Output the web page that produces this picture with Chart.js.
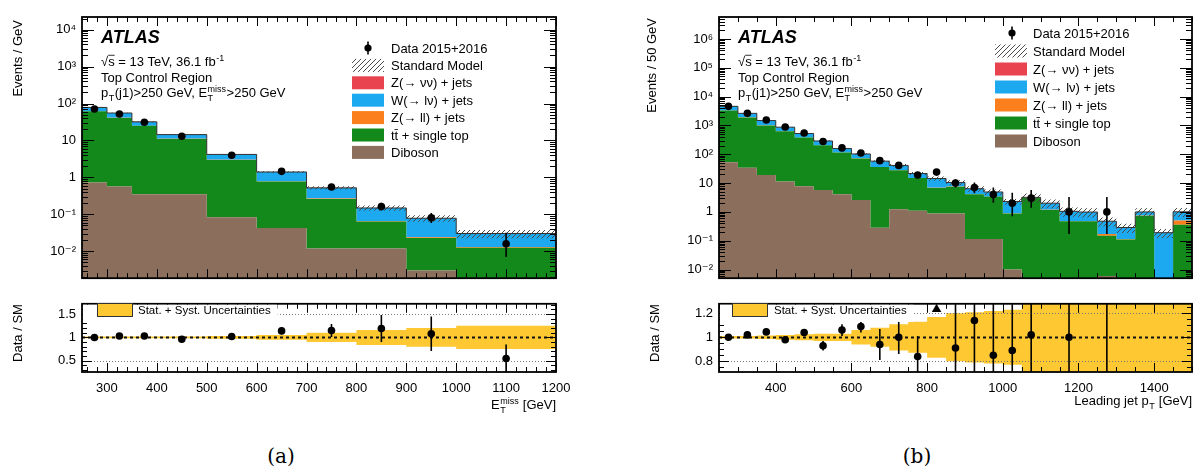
<!DOCTYPE html>
<html>
<head>
<meta charset="utf-8">
<title>ATLAS top control region</title>
<script src="https://cdn.jsdelivr.net/npm/chart.js@4.4.1/dist/chart.umd.min.js"></script>
<style>
  body { margin: 0; background: #fff; }
  #wrap { position: relative; width: 1203px; height: 475px; overflow: hidden; background: #fff; }
  canvas { position: absolute; }
  .cap { position: absolute; top: 444px; width: 60px; margin-left: -30px; text-align: center;
         font: 20px 'DejaVu Serif', 'Liberation Serif', serif; color: #000; }
</style>
</head>
<body>
<div id="wrap">
  <canvas id="mainA" width="600" height="292" style="left:0;top:0"></canvas>
  <canvas id="ratioA" width="600" height="140" style="left:0;top:290px"></canvas>
  <canvas id="mainB" width="603" height="292" style="left:600px;top:0"></canvas>
  <canvas id="ratioB" width="603" height="140" style="left:600px;top:290px"></canvas>
  <div class="cap" style="left:281px">(a)</div>
  <div class="cap" style="left:917px">(b)</div>
</div>
<script>
// ---------- (a) E_T^miss, events / GeV ----------
const edgesA = [250, 300, 350, 400, 500, 600, 700, 800, 900, 1000, 1200];
const dataA = [71, 52, 31, 13, 4.0, 1.46, 0.55, 0.163, 0.081, 0.016];
const dataErrUpA = [0.015, 0.02, 0.025, 0.03, 0.04, 0.07, 0.13, 0.26, 0.34, 1.0];
const dataErrDnA = [0.015, 0.02, 0.025, 0.03, 0.04, 0.07, 0.12, 0.22, 0.28, 0.56];
const dibosonA = [0.73, 0.57, 0.35, 0.35, 0.083, 0.043, 0.012, 0.012, 0.003, 0.001];
const ttbarA = [61, 40, 24.6, 10.6, 2.9, 0.73, 0.25, 0.052, 0.020, 0.0115];
const zllA = [0.5, 0.4, 0.2, 0.12, 0.04, 0.02, 0.007, 0.002, 0.001, 0.0005];
const wlnA = [16, 14.3, 6.7, 3.3, 1.15, 0.6, 0.25, 0.082, 0.054, 0.017];
const znnA = [0.2, 0.1, 0.1, 0.05, 0.02, 0.01, 0.003, 0.001, 0.0005, 0.0003];
const smUncA = [0.02, 0.02, 0.02, 0.02, 0.03, 0.05, 0.1, 0.16, 0.2, 0.25];
const ratioA = [1.0, 1.03, 1.03, 0.96, 1.02, 1.14, 1.15, 1.19, 1.08, 0.55];
const ratioErrA = [0.02, 0.02, 0.03, 0.03, 0.03, 0.07, 0.14, 0.29, 0.37, 0.3];

// ---------- (b) leading jet pT, events / 50 GeV ----------
const edgesB = [250, 300, 350, 400, 450, 500, 550, 600, 650, 700, 750, 800, 850, 900, 950,
                1000, 1050, 1100, 1150, 1200, 1250, 1300, 1350, 1400, 1450, 1500];
const dataB = [4600, 2650, 1550, 880, 550, 277, 166, 110, 60, 41, 19, 24, 10, 7, 4, 2, 3,
               null, 1, null, 1, null, null, null, null];
const dataErrUpB = [0.015, 0.02, 0.025, 0.034, 0.043, 0.06, 0.078, 0.1, 0.13, 0.16, 0.26, 0.23,
                    0.36, 0.5, 0.74, 1.3, 0.92, null, 2.3, null, 2.3, null, null, null, null];
const dataErrDnB = [0.015, 0.02, 0.025, 0.034, 0.043, 0.06, 0.078, 0.095, 0.13, 0.155, 0.22, 0.2,
                    0.3, 0.37, 0.48, 0.65, 0.54, null, 0.83, null, 0.83, null, null, null, null];
const dibosonB = [53, 34, 19, 11.4, 7.8, 5.7, 4.1, 2.6, 0.28, 1.23, 1.1, 0.88, 0.88, 0.115, 0.115,
                  0.01, 0.003, 0.003, 0.003, 0.003, 0.006, 0.002, 0.002, 0.001, 0.001];
const ttbarB = [3250, 1870, 980, 620, 372, 198, 110, 69, 35.7, 26.8, 13.9, 5.9, 6.6, 4.0, 3.3,
                0.87, 3.1, 1.17, 0.47, 0.47, 0.144, 0.108, 0.74, 0.001, 0.36];
const zllB = [30, 18, 10, 6, 3.5, 2, 1.1, 0.7, 0.4, 0.3, 0.15, 0.1, 0.08, 0.05, 0.04,
              0.02, 0.03, 0.02, 0.01, 0.01, 0.02, 0.005, 0.005, 0.002, 0.14];
const wlnB = [1260, 700, 466, 232, 140, 83, 42, 30, 21, 12.6, 6.3, 7.5, 2.9, 2.2, 1.44,
              1.39, 0.06, 0.8, 0.56, 0.5, 0.3, 0.17, 0.25, 0.185, 0.5];
const znnB = [10, 6, 4, 2, 1.2, 0.7, 0.4, 0.3, 0.2, 0.1, 0.05, 0.05, 0.03, 0.02, 0.02,
              0.01, 0.01, 0.01, 0.005, 0.005, 0.005, 0.002, 0.002, 0.001, 0.005];
const smUncB = [0.01, 0.01, 0.015, 0.02, 0.025, 0.03, 0.03, 0.06, 0.08, 0.11, 0.13, 0.17, 0.2,
                0.21, 0.22, 0.23, 0.35, 0.35, 0.35, 0.35, 0.35, 0.35, 0.35, 0.35, 0.35];
const ratioB = [1.0, 1.02, 1.045, 0.98, 1.04, 0.93, 1.06, 1.09, 0.94, 1.0, 0.84, 1.66, 0.91,
                1.14, 0.85, 0.89, 1.02, null, 1.0, null, 2.1, null, null, null, null];
const ratioErrB = [0.01, 0.015, 0.02, 0.025, 0.03, 0.04, 0.05, 0.05, 0.13, 0.14, 0.17, 0.3, 0.4,
                   0.45, 0.45, 0.6, 0.55, null, 1.0, null, 2.1, null, null, null, null];

const FONT = "'Liberation Sans', 'DejaVu Sans', Arial, sans-serif";
Chart.defaults.font.family = FONT;
Chart.defaults.font.size = 13;
Chart.defaults.color = '#000';

const COLORS = { diboson: '#8c6e5d', ttbar: '#13891b', zll: '#fb7f1c', wln: '#1ca9ef', znn: '#e8434f', band: '#fdc832' };

// hatch for the SM uncertainty
const HATCH = (() => {
  const c = document.createElement('canvas');
  c.width = 5; c.height = 5;
  const g = c.getContext('2d');
  g.strokeStyle = '#4a4a4a';
  g.lineWidth = 1;
  g.beginPath();
  g.moveTo(0, 5); g.lineTo(5, 0);
  g.moveTo(-1, 1); g.lineTo(1, -1);
  g.moveTo(4, 6); g.lineTo(6, 4);
  g.stroke();
  return document.createElement('canvas').getContext('2d').createPattern(c, 'repeat');
})();

const SUP = { '-': '\u207b', '0': '\u2070', '1': '\u00b9', '2': '\u00b2', '3': '\u00b3', '4': '\u2074',
              '5': '\u2075', '6': '\u2076', '7': '\u2077', '8': '\u2078', '9': '\u2079' };
function powLabel(v) {
  const l = Math.log10(v), e = Math.round(l);
  if (Math.abs(l - e) > 1e-6) return '';
  if (e === 0) return '1';
  if (e === 1) return '10';
  return '10' + String(e).split('').map(c => SUP[c]).join('');
}

function stepPts(edges, vals) {
  const pts = vals.map((v, i) => ({ x: edges[i], y: v }));
  pts.push({ x: edges[edges.length - 1], y: vals[vals.length - 1] });
  return pts;
}
function centers(edges) {
  return edges.slice(0, -1).map((e, i) => (e + edges[i + 1]) / 2);
}

// text with sub/superscripts
function drawRich(ctx, parts, x, y, size, opt = {}) {
  const pre = opt.style ? opt.style + ' ' : '';
  const big = `${pre}${size}px ${FONT}`;
  const small = `${pre}${Math.round(size * 0.7)}px ${FONT}`;
  const widths = parts.map(p => {
    if (typeof p === 'string') { ctx.font = big; return ctx.measureText(p).width; }
    if (p.over) { ctx.font = big; return ctx.measureText(p.over).width; }
    ctx.font = small;
    return Math.max(p.sup ? ctx.measureText(p.sup).width : 0, p.sub ? ctx.measureText(p.sub).width : 0) + 1;
  });
  const total = widths.reduce((s, w) => s + w, 0);
  let cx = opt.align === 'right' ? x - total : opt.align === 'center' ? x - total / 2 : x;
  ctx.textAlign = 'left';
  ctx.textBaseline = 'alphabetic';
  parts.forEach((p, i) => {
    if (typeof p === 'string') { ctx.font = big; ctx.fillText(p, cx, y); }
    else if (p.over) {
      ctx.font = big; ctx.fillText(p.over, cx, y);
      ctx.fillRect(cx, y - size * 0.86, widths[i], 0.8);
    } else {
      ctx.font = small;
      if (p.sup) ctx.fillText(p.sup, cx + 0.5, y - size * 0.42);
      if (p.sub) ctx.fillText(p.sub, cx + 0.5, y + size * 0.28);
    }
    cx += widths[i];
  });
  return total;
}

const legendItems = [
  { kind: 'data', text: ['Data 2015+2016'] },
  { kind: 'hatch', text: ['Standard Model'] },
  { kind: 'box', color: COLORS.znn, text: ['Z(\u2192 \u03bd\u03bd) + jets'] },
  { kind: 'box', color: COLORS.wln, text: ['W(\u2192 l\u03bd) + jets'] },
  { kind: 'box', color: COLORS.zll, text: ['Z(\u2192 ll) + jets'] },
  { kind: 'box', color: COLORS.ttbar, text: ['tt\u0304 + single top'] },
  { kind: 'box', color: COLORS.diboson, text: ['Diboson'] }
];

function atlasTexts(x, y) {
  return [
    { x: x, y: y, parts: ['ATLAS'], size: 18, style: 'italic bold' },
    { x: x, y: y + 23, parts: ['\u221a', { over: 's' }, ' = 13 TeV, 36.1 fb', { sup: '-1' }] },
    { x: x, y: y + 39, parts: ['Top Control Region'] },
    { x: x, y: y + 54, parts: ['p', { sub: 'T' }, '(j1)>250 GeV, E', { sup: 'miss', sub: 'T' }, '>250 GeV'] }
  ];
}

const ANNOT = {
  mainA: {
    ticks: { xMajor: 100, xMinor: 20, xLen: [9, 5], log: true, yLen: [12, 6] },
    ytitle: { x: 22, y: 20, parts: ['Events / GeV'], align: 'right' },
    texts: atlasTexts(101, 43),
    legend: { mx: 368, bx: 352, tx: 391, y0: 48, dy: 17.4 }
  },
  ratioA: {
    ticks: { xMajor: 100, xMinor: 20, xLen: [9, 5], yMajor: 0.5, yMinor: 0.1, yLen: [10, 5] },
    ytitle: { x: 22, y: 43, parts: ['Data / SM'], align: 'center' },
    xtitle: { x: 556, y: 119, parts: ['E', { sup: 'miss', sub: 'T' }, ' [GeV]'] },
    rlegend: { bx: 97, by: 13, tx: 138, ty: 24 }
  },
  mainB: {
    ticks: { xMajor: 200, xMinor: 50, xLen: [9, 5], log: true, yLen: [12, 6] },
    ytitle: { x: 56, y: 18, parts: ['Events / 50 GeV'], align: 'right' },
    texts: atlasTexts(138, 43),
    legend: { mx: 412, bx: 395, tx: 433, y0: 33, dy: 18 }
  },
  ratioB: {
    ticks: { xMajor: 200, xMinor: 50, xLen: [9, 5], yMajor: 0.2, yMinor: 0.05, yLen: [10, 5] },
    ytitle: { x: 59, y: 43, parts: ['Data / SM'], align: 'center' },
    xtitle: { x: 592, y: 115, parts: ['Leading jet p', { sub: 'T' }, ' [GeV]'] },
    rlegend: { bx: 132, by: 13, tx: 174, ty: 24 }
  }
};

// frame with inward ticks on all four sides
const frameTicks = {
  id: 'frameTicks',
  afterDraw(chart) {
    const o = ANNOT[chart.canvas.id].ticks;
    const { ctx, chartArea: a, scales: { x, y } } = chart;
    const isMult = (v, s) => Math.abs(v / s - Math.round(v / s)) < 1e-6;
    ctx.save();
    ctx.strokeStyle = '#000';
    ctx.lineWidth = 1;
    ctx.beginPath();
    for (let i = Math.ceil(x.min / o.xMinor - 1e-9); i * o.xMinor <= x.max + 1e-9; i++) {
      const v = i * o.xMinor;
      const px = Math.round(x.getPixelForValue(v)) + 0.5;
      const l = isMult(v, o.xMajor) ? o.xLen[0] : o.xLen[1];
      ctx.moveTo(px, a.bottom); ctx.lineTo(px, a.bottom - l);
      ctx.moveTo(px, a.top); ctx.lineTo(px, a.top + l);
    }
    const yv = [];
    if (o.log) {
      for (let e = Math.floor(Math.log10(y.min)); e <= Math.ceil(Math.log10(y.max)); e++) {
        for (let k = 1; k <= 9; k++) yv.push([k * Math.pow(10, e), k === 1]);
      }
    } else {
      for (let i = Math.ceil(y.min / o.yMinor - 1e-9); i * o.yMinor <= y.max + 1e-9; i++) {
        const v = i * o.yMinor;
        yv.push([v, isMult(v, o.yMajor)]);
      }
    }
    yv.forEach(([v, major]) => {
      if (v < y.min || v > y.max) return;
      const py = Math.round(y.getPixelForValue(v)) + 0.5;
      const l = major ? o.yLen[0] : o.yLen[1];
      ctx.moveTo(a.left, py); ctx.lineTo(a.left + l, py);
      ctx.moveTo(a.right, py); ctx.lineTo(a.right - l, py);
    });
    ctx.stroke();
    ctx.lineWidth = 1.8;
    ctx.strokeRect(a.left, a.top, a.right - a.left, a.bottom - a.top);
    ctx.restore();
  }
};

// vertical error bars on the data points
const errorBars = {
  id: 'errorBars',
  afterDatasetsDraw(chart) {
    const { ctx, chartArea: a, scales: { x, y } } = chart;
    ctx.save();
    ctx.beginPath();
    ctx.rect(a.left, a.top, a.right - a.left, a.bottom - a.top);
    ctx.clip();
    ctx.strokeStyle = '#000';
    ctx.lineWidth = 1.6;
    chart.data.datasets.forEach(ds => {
      if (!ds.errLo) return;
      ds.data.forEach((p, i) => {
        if (p.y == null || ds.errLo[i] == null) return;
        const px = x.getPixelForValue(p.x);
        const lo = Math.max(ds.errLo[i], 1e-9);
        ctx.beginPath();
        ctx.moveTo(px, y.getPixelForValue(lo));
        ctx.lineTo(px, y.getPixelForValue(ds.errHi[i]));
        ctx.stroke();
      });
    });
    ctx.restore();
  }
};

// reference lines of the ratio panel, drawn right above the uncertainty band
function drawRefLines(chart) {
  const { ctx, chartArea: a, scales: { y } } = chart;
  ctx.save();
  y.ticks.forEach(t => {
    const py = Math.round(y.getPixelForValue(t.value)) + 0.5;
    ctx.beginPath();
    if (Math.abs(t.value - 1) < 1e-6) {
      ctx.strokeStyle = '#111'; ctx.lineWidth = 2; ctx.setLineDash([3, 3]);
    } else {
      ctx.strokeStyle = '#777'; ctx.lineWidth = 1; ctx.setLineDash([1, 2]);
    }
    ctx.moveTo(a.left, py); ctx.lineTo(a.right, py);
    ctx.stroke();
  });
  ctx.restore();
}

const annotations = {
  id: 'annotations',
  afterDatasetDraw(chart, args) {
    if (chart.data.datasets[args.index].hook) drawRefLines(chart);
  },
  afterDraw(chart) {
    const A = ANNOT[chart.canvas.id];
    const { ctx, chartArea: a } = chart;
    ctx.save();
    ctx.fillStyle = '#000';
    if (A.ytitle) {
      ctx.save();
      ctx.translate(A.ytitle.x, A.ytitle.y);
      ctx.rotate(-Math.PI / 2);
      drawRich(ctx, A.ytitle.parts, 0, 0, 13, { align: A.ytitle.align });
      ctx.restore();
    }
    (A.texts || []).forEach(t => drawRich(ctx, t.parts, t.x, t.y, t.size || 13, { style: t.style }));
    if (A.xtitle) drawRich(ctx, A.xtitle.parts, A.xtitle.x, A.xtitle.y, 13, { align: 'right' });
    if (A.legend) {
      const L = A.legend;
      legendItems.forEach((it, i) => {
        const cy = L.y0 + i * L.dy;
        if (it.kind === 'data') {
          ctx.fillStyle = '#000';
          ctx.beginPath(); ctx.arc(L.mx, cy, 3.6, 0, Math.PI * 2); ctx.fill();
          ctx.fillRect(L.mx - 0.8, cy - 6.5, 1.6, 13);
        } else {
          ctx.fillStyle = it.kind === 'hatch' ? HATCH : it.color;
          ctx.fillRect(L.bx, cy - 6.5, 32, 13);
        }
        ctx.fillStyle = '#000';
        drawRich(ctx, it.text, L.tx, cy + 4.6, 13);
      });
    }
    if (A.rlegend) {
      const R = A.rlegend;
      ctx.font = `11.5px ${FONT}`;
      const w = ctx.measureText('Stat. + Syst. Uncertainties').width;
      ctx.fillStyle = '#fff';
      ctx.fillRect(a.left + 1, a.top + 1, R.tx + w + 6 - a.left, R.by + 18 - a.top);
      ctx.fillStyle = COLORS.band;
      ctx.fillRect(R.bx, R.by, 35, 13);
      ctx.strokeStyle = '#333'; ctx.lineWidth = 1;
      ctx.strokeRect(R.bx + 0.5, R.by + 0.5, 35, 13);
      ctx.fillStyle = '#000';
      drawRich(ctx, ['Stat. + Syst. Uncertainties'], R.tx, R.ty, 11.5);
    }
    ctx.restore();
  }
};

function buildMain(id, edges, comps, unc, data, errUp, errDn, yMin, yMax, yWidth, padRight) {
  const datasets = [];
  let cum = comps[0].vals.map(() => 0);
  comps.forEach((c, k) => {
    cum = cum.map((s, i) => s + c.vals[i]);
    datasets.push({ data: stepPts(edges, cum), backgroundColor: c.color, fill: k === 0 ? 'start' : '-1', order: 5 });
  });
  const total = cum;
  datasets.push({ data: stepPts(edges, total.map((t, i) => t * (1 - unc[i]))), fill: false, order: 3 });
  datasets.push({ data: stepPts(edges, total.map((t, i) => t * (1 + unc[i]))), backgroundColor: HATCH, fill: '-1', order: 3 });
  datasets.push({ data: stepPts(edges, total), borderColor: '#333', borderWidth: 1, fill: false, order: 2 });
  const cx = centers(edges);
  datasets.push({
    data: cx.map((x, i) => ({ x, y: data[i] })),
    showLine: false, pointRadius: 3.8, pointBackgroundColor: '#000', pointBorderWidth: 0, order: 0,
    errLo: data.map((d, i) => d == null ? null : d * (1 - errDn[i])),
    errHi: data.map((d, i) => d == null ? null : d * (1 + errUp[i]))
  });
  return new Chart(document.getElementById(id), {
    type: 'line',
    data: { datasets },
    options: {
      responsive: false, animation: false, events: [],
      layout: { padding: { top: 17, right: padRight, bottom: 3, left: 0 } },
      elements: { line: { borderWidth: 0, stepped: 'before', tension: 0 }, point: { radius: 0 } },
      scales: {
        x: { type: 'linear', display: false, min: edges[0], max: edges[edges.length - 1] },
        y: {
          type: 'logarithmic', min: yMin, max: yMax,
          grid: { display: false, drawTicks: false }, border: { display: false },
          ticks: { autoSkip: false, padding: 6, callback: powLabel, font: { size: 13 } },
          afterFit: s => { s.width = yWidth; }
        }
      },
      plugins: { legend: { display: false }, tooltip: { enabled: false } }
    },
    plugins: [frameTicks, errorBars, annotations]
  });
}

function buildRatio(id, edges, unc, ratio, rErr, yMin, yMax, yStep, xStep, yWidth, padRight) {
  const cx = centers(edges);
  const offScale = [];
  ratio.forEach((r, i) => {
    if (r != null && r - rErr[i] > yMax) offScale.push({ x: cx[i], y: yMax - 0.045 });
  });
  const datasets = [
    { data: stepPts(edges, unc.map(u => 1 - u)), fill: false, order: 2, hook: true },
    { data: stepPts(edges, unc.map(u => 1 + u)), backgroundColor: COLORS.band, fill: '-1', order: 2 },
    {
      data: cx.map((x, i) => ({ x, y: ratio[i] })),
      showLine: false, pointRadius: 3.8, pointBackgroundColor: '#000', pointBorderWidth: 0, order: 0,
      errLo: ratio.map((r, i) => r == null ? null : r - rErr[i]),
      errHi: ratio.map((r, i) => r == null ? null : r + rErr[i])
    },
    { data: offScale, showLine: false, pointStyle: 'triangle', pointRadius: 5.5,
      pointBackgroundColor: '#000', pointBorderWidth: 0, order: 0 }
  ];
  return new Chart(document.getElementById(id), {
    type: 'line',
    data: { datasets },
    options: {
      responsive: false, animation: false, events: [],
      layout: { padding: { top: 5, right: padRight, bottom: 0, left: 0 } },
      elements: { line: { borderWidth: 0, stepped: 'before', tension: 0 }, point: { radius: 0 } },
      scales: {
        x: {
          type: 'linear', min: edges[0], max: edges[edges.length - 1],
          grid: { display: false, drawTicks: false }, border: { display: false },
          ticks: { stepSize: xStep, includeBounds: false, autoSkip: false, maxRotation: 0, padding: 9,
                   font: { size: 13 }, callback: v => String(v) },
          afterFit: s => { s.height = 58; }
        },
        y: {
          type: 'linear', min: yMin, max: yMax,
          grid: { display: false, drawTicks: false }, border: { display: false },
          ticks: { stepSize: yStep, includeBounds: false, autoSkip: false, padding: 6, font: { size: 13 },
                   callback: v => String(+v.toFixed(2)) },
          afterFit: s => { s.width = yWidth; }
        }
      },
      plugins: { legend: { display: false }, tooltip: { enabled: false } }
    },
    plugins: [frameTicks, errorBars, annotations]
  });
}

buildMain('mainA', edgesA, [
  { vals: dibosonA, color: COLORS.diboson },
  { vals: ttbarA, color: COLORS.ttbar },
  { vals: zllA, color: COLORS.zll },
  { vals: wlnA, color: COLORS.wln },
  { vals: znnA, color: COLORS.znn }
], smUncA, dataA, dataErrUpA, dataErrDnA, 0.00187, 2.2e4, 82, 44);

buildRatio('ratioA', edgesA, smUncA, ratioA, ratioErrA, 0.26, 1.72, 0.5, 100, 82, 44);

buildMain('mainB', edgesB, [
  { vals: dibosonB, color: COLORS.diboson },
  { vals: ttbarB, color: COLORS.ttbar },
  { vals: zllB, color: COLORS.zll },
  { vals: wlnB, color: COLORS.wln },
  { vals: znnB, color: COLORS.znn }
], smUncB, dataB, dataErrUpB, dataErrDnB, 0.005, 5.8e6, 119, 11);

buildRatio('ratioB', edgesB, smUncB, ratioB, ratioErrB, 0.71, 1.28, 0.2, 200, 119, 11);
</script>
</body>
</html>
